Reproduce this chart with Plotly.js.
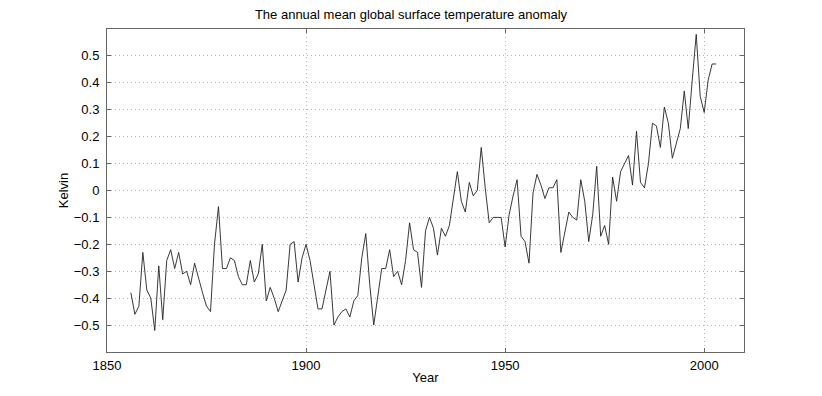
<!DOCTYPE html>
<html>
<head>
<meta charset="utf-8">
<script src="https://cdn.plot.ly/plotly-3.0.1.min.js"></script>
<style>
  html, body { margin: 0; padding: 0; background: #fff; }
  #graphDiv { width: 822px; height: 396px; }
</style>
</head>
<body>
<div id="graphDiv"></div>
<script>
var startYear = 1856;

// annual anomaly in Kelvin, 1856 .. 2003
var anomaly = [
  -0.38, -0.46, -0.43, -0.23, -0.37, -0.40, -0.52, -0.28, -0.48, -0.26,
  -0.22, -0.29, -0.23, -0.31, -0.30, -0.35, -0.27, -0.33, -0.38, -0.43,
  -0.45, -0.20, -0.06, -0.29, -0.29, -0.25, -0.26, -0.32, -0.35, -0.35,
  -0.26, -0.34, -0.31, -0.20, -0.41, -0.36, -0.40, -0.45, -0.41, -0.37,
  -0.20, -0.19, -0.34, -0.25, -0.20, -0.26, -0.35, -0.44, -0.44, -0.37,
  -0.30, -0.50, -0.47, -0.45, -0.44, -0.47, -0.41, -0.39, -0.25, -0.16,
  -0.35, -0.50, -0.40, -0.29, -0.29, -0.22, -0.32, -0.30, -0.35, -0.26,
  -0.12, -0.22, -0.23, -0.36, -0.15, -0.10, -0.14, -0.24, -0.14, -0.17,
  -0.13, -0.02, 0.07, -0.04, -0.08, 0.03, -0.02, 0.00, 0.16, 0.01,
  -0.12, -0.10, -0.10, -0.10, -0.21, -0.09, -0.02, 0.04, -0.17, -0.19,
  -0.27, -0.01, 0.06, 0.02, -0.03, 0.01, 0.01, 0.04, -0.23, -0.16,
  -0.08, -0.10, -0.11, 0.04, -0.04, -0.19, -0.09, 0.09, -0.17, -0.13,
  -0.20, 0.05, -0.04, 0.07, 0.10, 0.13, 0.02, 0.22, 0.03, 0.01,
  0.10, 0.25, 0.24, 0.16, 0.31, 0.25, 0.12, 0.18, 0.23, 0.37,
  0.23, 0.41, 0.58, 0.35, 0.29, 0.41, 0.47, 0.47
];

var years = [];
for (var i = 0; i < anomaly.length; i++) years.push(startYear + i);

var xTicks = [1850, 1900, 1950, 2000];
var yTicks = [-0.5, -0.4, -0.3, -0.2, -0.1, 0, 0.1, 0.2, 0.3, 0.4, 0.5];
var yTickText = ['\u22120.5', '\u22120.4', '\u22120.3', '\u22120.2', '\u22120.1', '0',
                 '0.1', '0.2', '0.3', '0.4', '0.5'];

var trace = {
  x: years,
  y: anomaly,
  type: 'scatter',
  mode: 'lines',
  line: { color: '#222', width: 0.9 },
  hoverinfo: 'skip'
};

var axisCommon = {
  showline: true,
  linecolor: '#666',
  linewidth: 1,
  mirror: 'ticks',
  ticks: 'inside',
  ticklen: 4,
  tickcolor: '#666',
  showgrid: true,
  gridcolor: '#b4b4b4',
  griddash: '1px,3px',
  gridwidth: 1,
  zeroline: false,
  tickfont: { size: 13, color: '#000' }
};

var layout = {
  width: 822,
  height: 396,
  margin: { l: 107, r: 78, t: 29, b: 44 },
  paper_bgcolor: '#fff',
  plot_bgcolor: '#fff',
  showlegend: false,
  font: { family: 'Liberation Sans, Arial, sans-serif', size: 13, color: '#000' },
  title: {
    text: 'The annual mean global surface temperature anomaly',
    font: { size: 13 },
    x: 0.5,
    xanchor: 'center',
    y: 0.975,
    yanchor: 'top'
  },
  xaxis: Object.assign({}, axisCommon, {
    range: [1850, 2010],
    tickvals: xTicks,
    ticklabelstandoff: 1,
    title: { text: 'Year', font: { size: 13 }, standoff: 1 }
  }),
  yaxis: Object.assign({}, axisCommon, {
    range: [-0.6, 0.6],
    tickvals: yTicks,
    ticktext: yTickText,
    ticklabelstandoff: 4,
    title: { text: 'Kelvin', font: { size: 13 }, standoff: 2 }
  })
};

Plotly.newPlot(graphDiv, [trace], layout, { displayModeBar: false, staticPlot: true });
</script>
</body>
</html>
